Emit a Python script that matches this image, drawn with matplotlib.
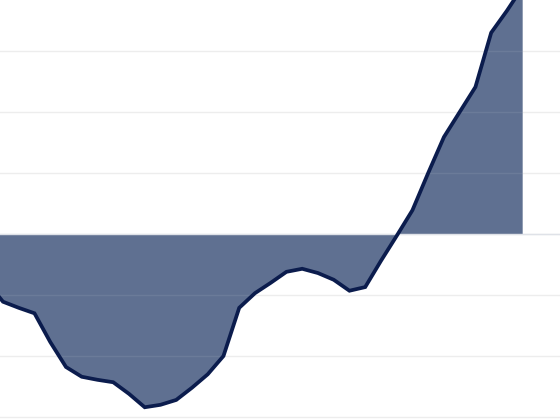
import matplotlib
matplotlib.use("Agg")
import matplotlib.pyplot as plt
import numpy as np

# one value per period (gridline step = 10)
periods = list(range(-1, 34))
values = [-7.9, -11.1, -12.1, -13.0, -17.7, -21.8, -23.4, -23.9, -24.3, -26.2,
          -28.4, -28.0, -27.2, -25.2, -23.0, -20.0, -12.1, -9.7, -8.0, -6.2,
          -5.7, -6.4, -7.5, -9.3, -8.7, -4.4, -0.3, 3.9, 10.0, 15.9,
          20.0, 24.1, 33.0, 36.6, 40.5]
grid_levels = [-30, -20, -10, 0, 10, 20, 30]

fill_color = "#5f7091"
line_color = "#0b1c4d"

fig = plt.figure(figsize=(5.6, 4.2), dpi=100)
ax = fig.add_axes([0, 0, 1, 1])

x = np.array(periods)
y = np.array(values)

for g in grid_levels:
    ax.axhline(g, color="#ececec", lw=1.0, zorder=0)

ax.fill_between(x, 0, y, color=fill_color, lw=0, zorder=1)
# faint grid showing through the area
for g in grid_levels:
    ax.axhline(g, color="#ffffff", alpha=0.08, lw=1.0, zorder=2)
ax.plot(x, y, color=line_color, lw=2.7, zorder=3, solid_joinstyle="miter")
ax.axhline(0, color="#dfe2e8", lw=1, zorder=2)

ax.set_xlim(-0.19, 35.37)
ax.set_ylim(-30.49, 38.36)
ax.axis("off")

fig.savefig("out.png", dpi=100)
